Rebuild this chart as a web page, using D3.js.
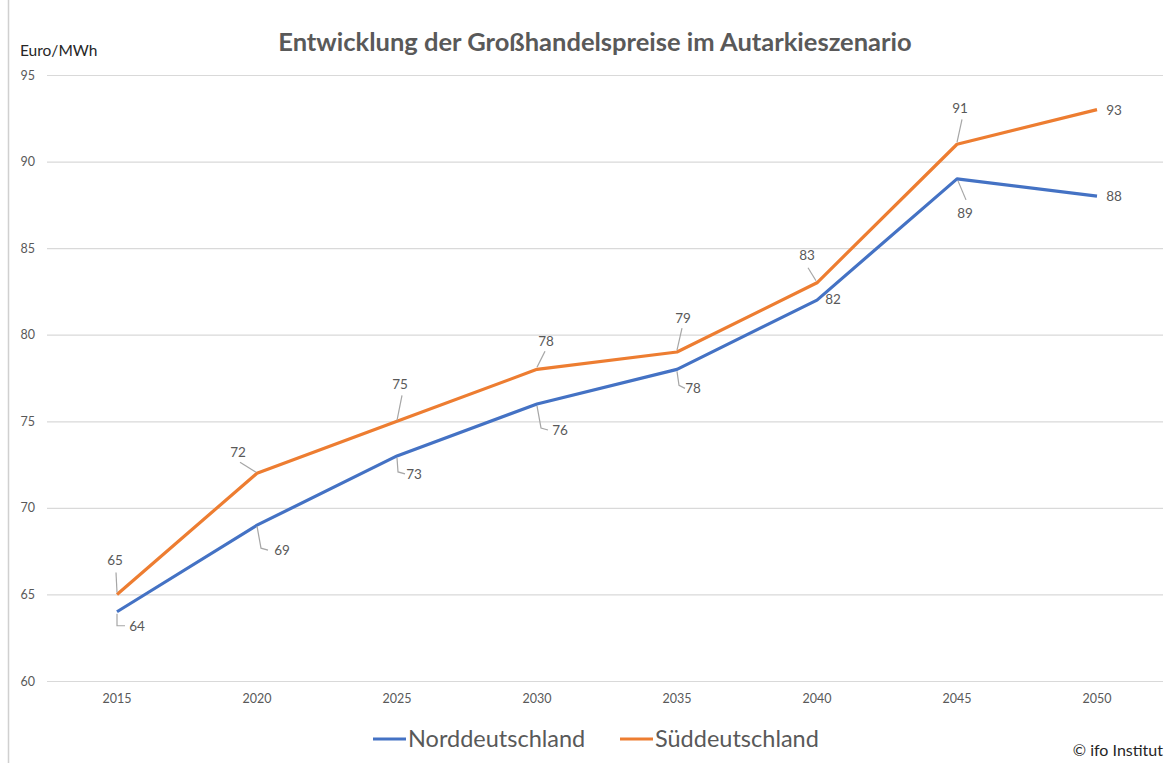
<!DOCTYPE html>
<html>
<head>
<meta charset="utf-8">
<script src="https://cdn.jsdelivr.net/npm/d3@7"></script>
<style>
  body { margin: 0; background: #fff; }
  text { font-family: Lato, "Open Sans", sans-serif; }
</style>
</head>
<body>
<div id="canvas"></div>
<script>
"use strict";

// Data
let years = ["2015", "2020", "2025", "2030", "2035", "2040", "2045", "2050"];
let nord = [64, 69, 73, 76, 78, 82, 89, 88];
let sued = [65, 72, 75, 78, 79, 83, 91, 93];
let yTicks = [60, 65, 70, 75, 80, 85, 90, 95];

// Label placement (pixel offsets from the point): label x/y, leader path
let suedLabels = [
    {dx: -2, dy: -34, lead: [[0, -2], [-1, -22]]},
    {dx: -19, dy: -21, lead: [[-1, -1], [-17, -11]]},
    {dx: 3, dy: -37, lead: [[0, -1], [5, -26]]},
    {dx: 9, dy: -28, lead: [[0, -2], [8, -18]]},
    {dx: 6, dy: -34, lead: [[0, -2], [5, -24]]},
    {dx: -10, dy: -28, lead: [[-1, -2], [-9, -15]]},
    {dx: 3, dy: -36, lead: [[0, -2], [5, -25]]},
    {dx: 17, dy: 0, lead: null}
];
let nordLabels = [
    {dx: 20, dy: 14, lead: [[0, 2], [0, 14], [8, 14]]},
    {dx: 25, dy: 25, lead: [[0, 1], [4, 23], [11, 25]]},
    {dx: 17, dy: 18, lead: [[0, 2], [1, 16], [8, 18]]},
    {dx: 23, dy: 26, lead: [[0, 2], [4, 24], [11, 26]]},
    {dx: 16, dy: 19, lead: [[0, 2], [2, 16], [8, 19]]},
    {dx: 16, dy: -1, lead: null},
    {dx: 8, dy: 34, lead: [[1, 2], [9, 21]]},
    {dx: 17, dy: 0, lead: null}
];

let svgWidth = 1167;
let svgHeight = 763;

let svg = d3.select("#canvas")
    .append("svg")
    .attr("width", svgWidth)
    .attr("height", svgHeight);

// left frame edge
svg.append("line")
    .attr("x1", 8.5).attr("x2", 8.5)
    .attr("y1", 0).attr("y2", svgHeight)
    .attr("stroke", "#d0d0d0")
    .attr("stroke-width", 1.5);

// Scales
let xScale = d3.scaleBand()
    .domain(years)
    .range([47, 1167]);

let yScale = d3.scaleLinear()
    .domain([60, 95])
    .range([681, 75]);

let xPos = d => xScale(d) + xScale.bandwidth() / 2;

// Gridlines
svg.append("g")
    .selectAll("line")
    .data(yTicks)
    .join("line")
    .attr("x1", 47)
    .attr("x2", 1163)
    .attr("y1", d => yScale(d) + 0.5)
    .attr("y2", d => yScale(d) + 0.5)
    .attr("stroke", "#d9d9d9")
    .attr("stroke-width", 1.2);

// Y axis labels
let yAxis = svg.append("g")
    .attr("transform", "translate(40, 0)")
    .call(d3.axisLeft(yScale).tickValues(yTicks).tickSize(0).tickPadding(5));
yAxis.select(".domain").remove();
yAxis.selectAll("text")
    .attr("fill", "#595959")
    .style("font-size", "12.5px");

// X axis labels
let xAxis = svg.append("g")
    .attr("transform", "translate(0, 691)")
    .call(d3.axisBottom(xScale).tickSize(0).tickPadding(3));
xAxis.select(".domain").remove();
xAxis.selectAll("text")
    .attr("fill", "#595959")
    .style("font-size", "12.5px");

// Lines
let line = d3.line()
    .x((d, i) => xPos(years[i]))
    .y(d => yScale(d));

let series = [
    {name: "Norddeutschland", values: nord, color: "#4472C4", labels: nordLabels},
    {name: "Süddeutschland", values: sued, color: "#ED7D31", labels: suedLabels}
];

series.forEach(s => {
    svg.append("path")
        .datum(s.values)
        .attr("fill", "none")
        .attr("stroke", s.color)
        .attr("stroke-width", 3.2)
        .attr("stroke-linejoin", "round")
        .attr("d", line);
});

// Data labels and leader lines
series.forEach(s => {
    s.values.forEach((v, i) => {
        let px = xPos(years[i]);
        let py = yScale(v);
        let lab = s.labels[i];
        if (lab.lead) {
            svg.append("path")
                .attr("fill", "none")
                .attr("stroke", "#a6a6a6")
                .attr("stroke-width", 1.2)
                .attr("d", d3.line()(lab.lead.map(p => [px + p[0], py + p[1]])));
        }
        svg.append("text")
            .attr("x", px + lab.dx)
            .attr("y", py + lab.dy)
            .attr("text-anchor", "middle")
            .attr("dominant-baseline", "central")
            .attr("fill", "#595959")
            .style("font-size", "13.5px")
            .text(v);
    });
});

// Title
svg.append("text")
    .attr("x", 595)
    .attr("y", 51)
    .attr("text-anchor", "middle")
    .attr("fill", "#595959")
    .attr("font-weight", "bold")
    .style("font-size", "25.5px")
    .text("Entwicklung der Großhandelspreise im Autarkieszenario");

// Unit label
svg.append("text")
    .attr("x", 20)
    .attr("y", 56)
    .attr("fill", "#262626")
    .style("font-size", "15.5px")
    .text("Euro/MWh");

// Legend
let legendX = [373, 620];
series.forEach((s, i) => {
    svg.append("line")
        .attr("x1", legendX[i])
        .attr("x2", legendX[i] + 33)
        .attr("y1", 739)
        .attr("y2", 739)
        .attr("stroke", s.color)
        .attr("stroke-width", 3.2);
    svg.append("text")
        .attr("x", legendX[i] + 35)
        .attr("y", 747)
        .attr("fill", "#595959")
        .style("font-size", "23.5px")
        .text(s.name);
});

// Source
svg.append("text")
    .attr("x", 1163)
    .attr("y", 756)
    .attr("text-anchor", "end")
    .attr("fill", "#262626")
    .style("font-size", "16px")
    .text("© ifo Institut");
</script>
</body>
</html>
